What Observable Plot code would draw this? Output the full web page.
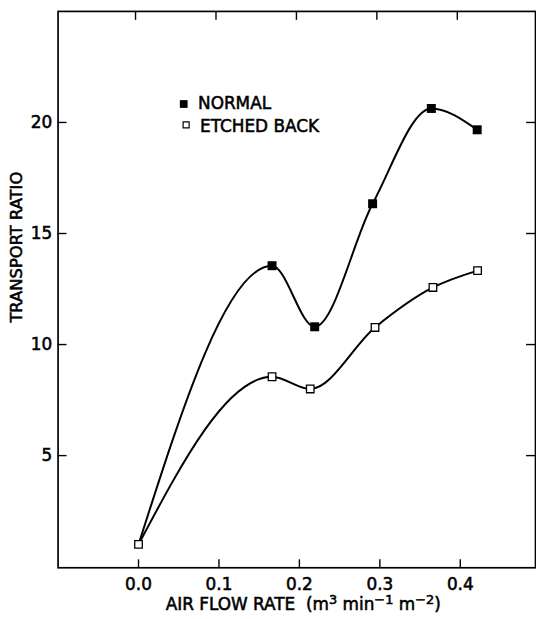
<!DOCTYPE html>
<html>
<head>
<meta charset="utf-8">
<script src="https://cdn.jsdelivr.net/npm/d3@7"></script>
<script src="https://cdn.jsdelivr.net/npm/@observablehq/plot@0.6"></script>
<style>
  html, body { margin: 0; padding: 0; background: white; overflow: hidden; }
  #chart { width: 536px; height: 619px; overflow: hidden; }
  #chart svg text { stroke: black; stroke-width: 0.55px; }
</style>
</head>
<body>
<div id="chart"></div>
<script>
// ---- data ----
const xTicks = [0, 0.1, 0.2, 0.3, 0.4];
const yTicks = [5, 10, 15, 20];
const seriesNames = ["NORMAL", "ETCHED BACK"];
const normalX = [0, 0.166, 0.219, 0.291, 0.364, 0.421];
const normalY = [1.0, 13.55, 10.8, 16.34, 20.63, 19.67];
const etchedX = [0, 0.166, 0.2135, 0.294, 0.366, 0.4215];
const etchedY = [1.0, 8.55, 8.0, 10.77, 12.57, 13.33];
const xLabel = "AIR FLOW RATE";
const yLabel = "TRANSPORT RATIO";

const normal = normalX.map((x, i) => ({x, y: normalY[i]}));
const etched = etchedX.map((x, i) => ({x, y: etchedY[i]}));

const W = 540, H = 619;
const mL = 58, mR = 1, mT = 11, mB = 47.5;
const plotW = W - mL - mR;
const plotH = H - mT - mB;

const legendMarks = seriesNames.flatMap((name, i) => {
  const filled = i === 0;
  return [
    Plot.dot([name], {
      frameAnchor: "top-left", dx: 126.6 + i * 2.4, dy: 93.3 + i * 21,
      symbol: "square", r: filled ? 4.4 : 3.4,
      fill: filled ? "black" : "white", stroke: "black", strokeWidth: filled ? 0 : 1.2
    }),
    Plot.text([name], {
      frameAnchor: "top-left", dx: 141 + i * 2, dy: 92.5 + i * 23.5,
      text: d => d, textAnchor: "start", lineAnchor: "middle",
      fontSize: 17, fill: "black"
    })
  ];
});

const svg = Plot.plot({
  width: W, height: H,
  marginLeft: mL, marginRight: mR, marginTop: mT, marginBottom: mB,
  style: {fontFamily: "'DejaVu Sans', sans-serif", fontSize: "17px", color: "black", background: "white", overflow: "hidden"},
  x: {domain: [-0.1, 0.4935]},
  y: {domain: [-0.05, 25]},
  marks: [
    Plot.frame({stroke: "black", strokeWidth: 1.7}),
    Plot.tickX(xTicks, {x: d => d, insetTop: plotH - 8, strokeWidth: 1.4}),
    Plot.tickX(xTicks, {x: d => d, insetBottom: plotH - 9, dx: -3, strokeWidth: 1.4}),
    Plot.tickY(yTicks, {y: d => d, insetRight: plotW - 9, strokeWidth: 1.4}),
    Plot.tickY(yTicks, {y: d => d, insetLeft: plotW - 9, strokeWidth: 1.4}),
    Plot.axisX(xTicks, {tickSize: 0, tickPadding: 10, tickFormat: d3.format(".1f"), label: null, fontSize: 17}),
    Plot.axisY(yTicks, {tickSize: 0, tickPadding: 6, label: null, fontSize: 17}),
    Plot.line(normal, {x: "x", y: "y", curve: "monotone-x", stroke: "black", strokeWidth: 2}),
    Plot.line(etched, {x: "x", y: "y", curve: "monotone-x", stroke: "black", strokeWidth: 2}),
    Plot.dot(normal.slice(1), {x: "x", y: "y", symbol: "square", r: 5.1, fill: "black"}),
    Plot.dot(etched, {x: "x", y: "y", symbol: "square", r: 4.3, fill: "white", stroke: "black", strokeWidth: 1.3}),
    ...legendMarks
  ]
});

const s = d3.select(svg);
// y axis title
s.append("text")
  .attr("transform", "translate(22,249) rotate(-90)")
  .attr("text-anchor", "middle")
  .attr("font-size", 16.5)
  .attr("fill", "black")
  .text(yLabel);
// x axis title with superscripts
const xt = s.append("text")
  .attr("x", 305.5).attr("y", 615)
  .attr("text-anchor", "middle")
  .attr("font-size", 17)
  .attr("fill", "black");
xt.append("tspan").text(xLabel + "  (m");
xt.append("tspan").attr("dy", -6).attr("font-size", 13).text("3");
xt.append("tspan").attr("dy", 6).text(" min");
xt.append("tspan").attr("dy", -6).attr("font-size", 13).text("\u22121");
xt.append("tspan").attr("dy", 6).text(" m");
xt.append("tspan").attr("dy", -6).attr("font-size", 13).text("\u22122");
xt.append("tspan").attr("dy", 6).text(")");

document.getElementById("chart").appendChild(svg);
</script>
</body>
</html>
